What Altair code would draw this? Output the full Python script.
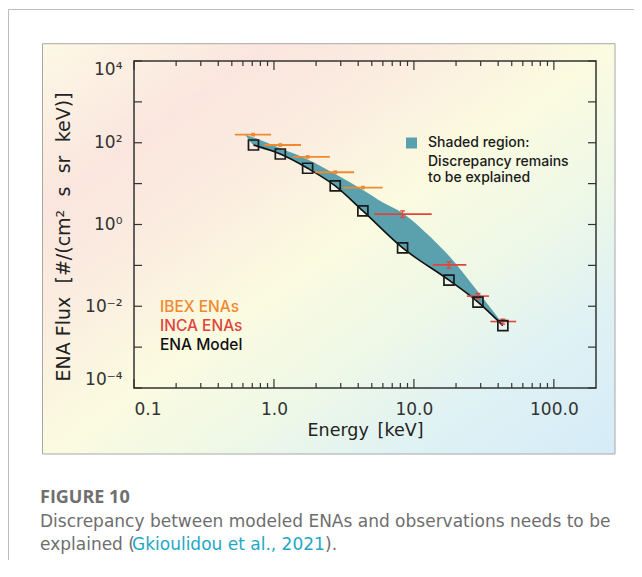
import altair as alt
import pandas as pd

# ---------------- data ----------------
model_E = [0.714, 1.11, 1.74, 2.74, 4.32, 8.3, 17.8, 28.7, 43.2]
model_F = [88, 53, 23.8, 8.8, 2.15, 0.268, 0.0435, 0.0126, 0.00337]

band_E = [0.63, 0.714, 1.11, 1.74, 2.74, 4.32, 6.0, 8.3, 12.0, 17.8, 28.7, 43.2]
band_lo = [150, 88, 53, 23.8, 8.8, 2.15, 0.74, 0.268, 0.113, 0.0435, 0.0126, 0.00337]
band_hi = [158, 135, 73, 39, 17.3, 7.0, 3.47, 1.92, 0.66, 0.171, 0.0225, 0.0037]

ibex_E = [0.71, 1.11, 1.74, 2.74, 4.32]
ibex_F = [158, 88, 45, 19, 8.0]
ibex_Elo = [0.526, 0.855, 1.37, 1.97, 3.14]
ibex_Ehi = [0.955, 1.56, 2.51, 3.74, 5.98]

inca_E = [8.3, 17.8, 28.7, 43.2]
inca_F = [1.79, 0.103, 0.0177, 0.00423]
inca_Elo = [5.19, 13.6, 23.9, 35.2]
inca_Ehi = [13.4, 23.7, 34.4, 53.8]
inca_Flo = [1.48, 0.0855, 0.0149, 0.00365]
inca_Fhi = [2.15, 0.122, 0.0205, 0.00484]

x_major = [0.1, 1, 10, 100]
x_minor = [0.2, 0.3, 0.4, 0.5, 0.6, 0.7, 0.8, 0.9,
           2, 3, 4, 5, 6, 7, 8, 9,
           20, 30, 40, 50, 60, 70, 80, 90]
y_major = [1e-4, 1e-3, 1e-2, 1e-1, 1, 10, 100, 1e3, 1e4]
y_label_vals = [1e-4, 1e-2, 1, 1e2, 1e4]
y_label_text = ["10⁻⁴", "10⁻²", "10⁰", "10²", "10⁴"]
x_label_text = ["0.1", "1.0", "10.0", "100.0"]

x_title = "Energy\u2002[keV]"
y_title = "ENA Flux\u2002\u2009[#/(cm²\u2002\u2009s\u2002\u2009sr\u2002\u2009keV)]"
legend_lines = ["Shaded region:", "Discrepancy remains", "to be explained"]
series_labels = ["IBEX ENAs", "INCA ENAs", "ENA Model"]
caption_title = "FIGURE 10"
caption_line1 = "Discrepancy between modeled ENAs and observations needs to be"
caption_line2 = ["explained (", "Gkioulidou et al., 2021", ")."]

# ---------------- styling ----------------
W, H = 462, 327
ORANGE = "#f08a2e"
RED = "#e0453d"
TEAL = "#5ba1ad"
INK = "#222222"
FONT = "DejaVu Sans"

x_scale = alt.Scale(type="log", domain=[0.1, 200], nice=False)
y_scale = alt.Scale(type="log", domain=[1e-4, 1e4], nice=False)

x_expr = " : ".join(
    [f"datum.value < {v*1.5} ? '{t}'" for v, t in zip(x_major[:-1], x_label_text[:-1])]
) + f" : '{x_label_text[-1]}'"
y_expr = " : ".join(
    [f"datum.value < {v*3} ? '{t}'" for v, t in zip(y_label_vals[:-1], y_label_text[:-1])]
) + f" : '{y_label_text[-1]}'"

x_axis = alt.Axis(values=x_major, labelExpr=x_expr, ticks=False, domain=False, grid=False,
                  labelPadding=13, labelFontSize=17, labelFont=FONT, labelColor="#333",
                  title=x_title, titleFont=FONT, titleFontSize=17.5,
                  titleFontWeight="normal", titleColor=INK, titlePadding=4, zindex=2)
y_axis = alt.Axis(values=y_label_vals, labelExpr=y_expr, ticks=False, domain=False, grid=False,
                  labelPadding=12, labelFontSize=17, labelFont=FONT, labelColor="#333",
                  labelFlush=True,
                  title=y_title, titleFont=FONT, titleFontSize=19,
                  titleFontWeight="normal", titleColor=INK,
                  titleX=-71, titleY=175.5, titleAngle=270, titleAlign="center",
                  titleBaseline="middle", zindex=2)


def X(field):
    return alt.X(field, type="quantitative", scale=x_scale, axis=x_axis)


def Y(field):
    return alt.Y(field, type="quantitative", scale=y_scale, axis=y_axis)


one = alt.Data(values=[{"k": 0}])


def txt(s, x, y, **kw):
    return alt.Chart(one).mark_text(text=s, **kw).encode(x=alt.value(x), y=alt.value(y))


# ---------------- decoration ----------------
card = alt.Chart(one).mark_rect(fill="white", stroke="#bdbdbd", strokeWidth=1).encode(
    x=alt.value(-125.5), x2=alt.value(800), y=alt.value(-51.5), y2=alt.value(800))

grad = alt.Gradient(
    gradient="linear", x1=0, y1=0, x2=1, y2=1,
    stops=[
        alt.GradientStop(offset=0.0, color="#fdf8e6"),
        alt.GradientStop(offset=0.2, color="#fae6de"),
        alt.GradientStop(offset=0.33, color="#fbece0"),
        alt.GradientStop(offset=0.5, color="#fbfbe0"),
        alt.GradientStop(offset=0.66, color="#eef8e7"),
        alt.GradientStop(offset=0.82, color="#def1f4"),
        alt.GradientStop(offset=1.0, color="#d5ecf8"),
    ])
panel = alt.Chart(one).mark_rect(fill=grad, stroke="#a8a8a8", strokeWidth=1).encode(
    x=alt.value(-91.5), x2=alt.value(481), y=alt.value(-17.3), y2=alt.value(393))

frame = alt.Chart(one).mark_rect(filled=False, stroke="#333", strokeWidth=1.5).encode(
    x=alt.value(0), x2=alt.value(W), y=alt.value(0), y2=alt.value(H))

# ---------------- ticks (inward) ----------------
xM = pd.DataFrame({"E": x_major})
xm = pd.DataFrame({"E": x_minor})
yM = pd.DataFrame({"F": y_major})
tick_kw = dict(color="#333", strokeWidth=1.2)


def xticks(df, length):
    b = alt.Chart(df).mark_rule(**tick_kw).encode(
        x=X("E"), y=alt.value(H), y2=alt.value(H - length))
    t = alt.Chart(df).mark_rule(**tick_kw).encode(
        x=X("E"), y=alt.value(0), y2=alt.value(length))
    return [b, t]


yt_l = alt.Chart(yM).mark_rule(**tick_kw).encode(
    y=Y("F"), x=alt.value(0), x2=alt.value(8))
yt_r = alt.Chart(yM).mark_rule(**tick_kw).encode(
    y=Y("F"), x=alt.value(W), x2=alt.value(W - 8))

# ---------------- data layers ----------------
band_df = pd.DataFrame({"E": band_E, "lo": band_lo, "hi": band_hi})
band = alt.Chart(band_df).mark_area(interpolate="monotone", color=TEAL, opacity=1).encode(
    x=X("E"), y=Y("hi"), y2="lo:Q")

model_df = pd.DataFrame({"E": model_E, "F": model_F})
line = alt.Chart(model_df).mark_line(interpolate="monotone", color="#111", strokeWidth=1.6).encode(
    x=X("E"), y=Y("F"))
squares = alt.Chart(model_df).mark_point(shape="square", filled=False, size=100,
                                         color="#1a1a1a", strokeWidth=1.7, opacity=1).encode(
    x=X("E"), y=Y("F"))

ibex_df = pd.DataFrame({"E": ibex_E, "F": ibex_F, "lo": ibex_Elo, "hi": ibex_Ehi})
ibex_bar = alt.Chart(ibex_df).mark_rule(color=ORANGE, strokeWidth=1.8).encode(
    x=X("lo"), x2="hi:Q", y=Y("F"))
ibex_dot = alt.Chart(ibex_df).mark_square(color=ORANGE, size=14, opacity=1).encode(
    x=X("E"), y=Y("F"))

inca_df = pd.DataFrame({"E": inca_E, "F": inca_F, "lo": inca_Elo, "hi": inca_Ehi,
                        "flo": inca_Flo, "fhi": inca_Fhi})
inca_bar = alt.Chart(inca_df).mark_rule(color=RED, strokeWidth=1.6).encode(
    x=X("lo"), x2="hi:Q", y=Y("F"))
inca_v = alt.Chart(inca_df).mark_rule(color=RED, strokeWidth=1.3).encode(
    x=X("E"), y=Y("flo"), y2="fhi:Q")
cap_kw = dict(shape="M-1,0L1,0", size=25, filled=False, color=RED, strokeWidth=1.3, opacity=1)
inca_cap_lo = alt.Chart(inca_df).mark_point(**cap_kw).encode(x=X("E"), y=Y("flo"))
inca_cap_hi = alt.Chart(inca_df).mark_point(**cap_kw).encode(x=X("E"), y=Y("fhi"))

# ---------------- annotations ----------------
swatch = alt.Chart(one).mark_square(color=TEAL, size=121, opacity=1).encode(
    x=alt.value(277.5), y=alt.value(82))
leg_kw = dict(align="left", baseline="middle", font="Inter", fontSize=14, fontWeight=500, color="#1a1a1a")
leg_texts = [txt(s, 294, y, **leg_kw) for s, y in zip(legend_lines, [82.3, 100.7, 117.3])]

ser_kw = dict(align="left", baseline="middle", font="Inter", fontSize=15.5, fontWeight=500)
ser_texts = [txt(s, 26, y, color=c, **ser_kw)
             for s, y, c in zip(series_labels, [245.7, 265, 284], [ORANGE, RED, "#111"])]

cap_gray = "#6e6e6e"
cap_font = "DejaVu Sans"
cap_size = 17
cap_texts = [
    txt(caption_title, -94, 442, align="left", baseline="alphabetic", font="Open Sans",
        fontSize=18, fontWeight="bold", color="#6f6f6f"),
    txt(caption_line1, -94, 466, align="left", baseline="alphabetic", font=cap_font,
        fontSize=cap_size, color=cap_gray),
    txt(caption_line2[0], -94, 489, align="left", baseline="alphabetic", font=cap_font,
        fontSize=cap_size, color=cap_gray),
    txt(caption_line2[1], -2, 489, align="left", baseline="alphabetic", font=cap_font,
        fontSize=cap_size, color="#1ea8c6"),
    txt(caption_line2[2], 191, 489, align="left", baseline="alphabetic", font=cap_font,
        fontSize=cap_size, color=cap_gray),
]

layers = ([card, panel, frame] + xticks(xM, 9) + xticks(xm, 5) + [yt_l, yt_r,
          band, line, ibex_bar, ibex_dot, inca_bar, inca_v, inca_cap_lo, inca_cap_hi, squares,
          swatch] + leg_texts + ser_texts + cap_texts)

chart = alt.layer(*layers).properties(
    width=W, height=H,
    padding={"left": 126, "top": 53, "right": 38, "bottom": 172},
    autosize=alt.AutoSizeParams(type="none"),
).configure_view(stroke=None, fill=None).configure(background="white")

chart.save("out.html", embed_options={"renderer": "svg", "actions": False})
